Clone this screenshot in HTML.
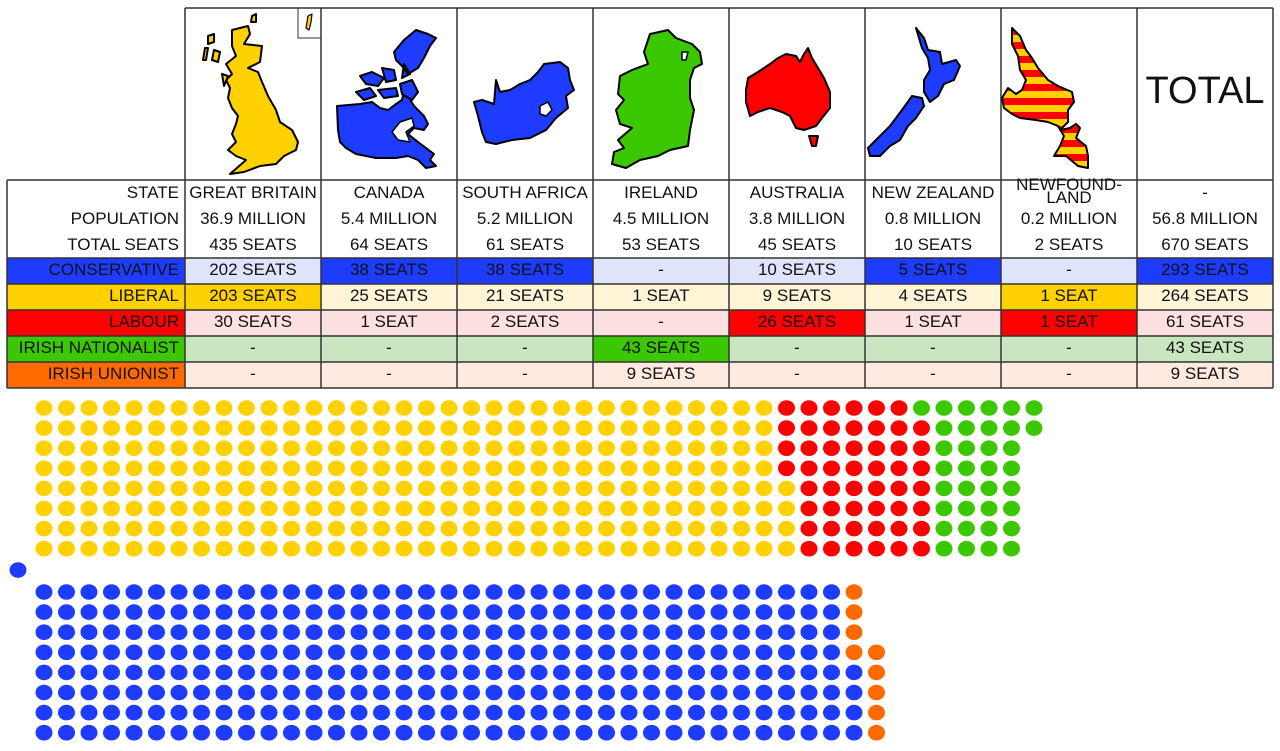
<!DOCTYPE html>
<html><head><meta charset="utf-8"><style>
body{margin:0;background:#fff;width:1280px;height:751px;overflow:hidden;position:relative;font-family:"Liberation Sans",sans-serif;}
.c{position:absolute;box-sizing:border-box;font-size:17px;color:#111;text-align:center;white-space:nowrap;}
svg{position:absolute;left:0;top:0}
</style></head><body>
<svg width="1280" height="751" xmlns="http://www.w3.org/2000/svg">
<defs>
<pattern id="st" width="10" height="14" patternUnits="userSpaceOnUse"><rect width="10" height="7" fill="#ff0000"/><rect y="7" width="10" height="7" fill="#ffd100"/></pattern>
</defs>
<g>
<rect x="7" y="258" width="178" height="26" fill="#1e3cff"/>
<rect x="7" y="284" width="178" height="26" fill="#ffd100"/>
<rect x="7" y="310" width="178" height="26" fill="#ff0000"/>
<rect x="7" y="336" width="178" height="26" fill="#3cc800"/>
<rect x="7" y="362" width="178" height="26" fill="#ff6a00"/>
<rect x="185" y="258" width="1088" height="26" fill="#dfe4fb"/>
<rect x="321" y="258" width="272" height="26" fill="#1e3cff"/>
<rect x="865" y="258" width="136" height="26" fill="#1e3cff"/>
<rect x="1137" y="258" width="136" height="26" fill="#1e3cff"/>
<rect x="185" y="284" width="1088" height="26" fill="#fff4d6"/>
<rect x="185" y="284" width="136" height="26" fill="#ffd100"/>
<rect x="1001" y="284" width="136" height="26" fill="#ffd100"/>
<rect x="185" y="310" width="1088" height="26" fill="#ffe0e0"/>
<rect x="729" y="310" width="136" height="26" fill="#ff0000"/>
<rect x="1001" y="310" width="136" height="26" fill="#ff0000"/>
<rect x="185" y="336" width="1088" height="26" fill="#cae6c0"/>
<rect x="593" y="336" width="136" height="26" fill="#3cc800"/>
<rect x="185" y="362" width="1088" height="26" fill="#ffeadf"/>
</g>
<g stroke="#333" stroke-width="1.5" fill="none">
<line x1="185" y1="8" x2="1273" y2="8"/>
<line x1="7" y1="180" x2="1273" y2="180"/>
<line x1="7" y1="258" x2="1273" y2="258"/>
<line x1="7" y1="284" x2="1273" y2="284"/>
<line x1="7" y1="310" x2="1273" y2="310"/>
<line x1="7" y1="336" x2="1273" y2="336"/>
<line x1="7" y1="362" x2="1273" y2="362"/>
<line x1="7" y1="388" x2="1273" y2="388"/>
<line x1="7" y1="180" x2="7" y2="388"/>
<line x1="185" y1="8" x2="185" y2="388"/>
<line x1="321" y1="8" x2="321" y2="388"/>
<line x1="457" y1="8" x2="457" y2="388"/>
<line x1="593" y1="8" x2="593" y2="388"/>
<line x1="729" y1="8" x2="729" y2="388"/>
<line x1="865" y1="8" x2="865" y2="388"/>
<line x1="1001" y1="8" x2="1001" y2="388"/>
<line x1="1137" y1="8" x2="1137" y2="388"/>
<line x1="1273" y1="8" x2="1273" y2="388"/>
<polyline points="298,8 298,38 321,38" stroke-width="1"/>
</g>
<g stroke="#000" stroke-width="2" stroke-linejoin="round">
<path fill="#ffd100" d="M232,30 L248,26 L250,34 L244,44 L262,46 L260,62 L248,68 L258,72 L262,82 L268,96 L276,110 L280,122 L292,130 L298,142 L296,150 L284,156 L276,164 L260,166 L244,172 L230,174 L246,160 L236,156 L228,150 L236,142 L232,134 L236,124 L238,116 L232,108 L228,98 L230,88 L226,80 L232,74 L226,64 L236,56 L232,46 Z"/>
<path fill="#ffd100" d="M208,36 L214,34 L214,42 L208,44 Z M205,48 L208,48 L206,60 L203,60 Z M214,50 L220,52 L218,62 L212,60 Z M222,74 L228,76 L224,86 Z M252,16 L256,14 L256,22 L251,22 Z"/>
<path fill="#ffd100" stroke-width="1.2" d="M308,16 L312,14 L311,22 L309,30 L306,28 L307,22 Z"/>
<path fill="#1e3cff" d="M337,106 L360,104 L372,102 L380,108 L388,110 L396,104 L402,100 L404,92 L408,96 L414,106 L420,112 L424,116 L428,124 L424,130 L414,128 L408,134 L418,142 L434,154 L430,160 L436,166 L426,168 L418,160 L408,156 L396,158 L376,158 L356,154 L346,148 L340,142 L338,130 Z"/>
<path fill="#1e3cff" d="M394,52 L404,40 L416,30 L428,34 L436,38 L430,46 L424,58 L418,68 L408,74 L402,66 L396,60 Z M360,76 L372,72 L384,78 L378,86 L366,84 Z M382,68 L394,70 L396,80 L386,82 Z M356,92 L370,88 L376,96 L364,100 Z M378,90 L396,88 L398,96 L384,98 Z M400,84 L412,80 L418,92 L412,100 L402,94 Z M404,64 L410,74 L402,78 Z"/>
<path fill="#fff" stroke-width="1.5" d="M400,122 L412,118 L414,126 L406,132 L410,142 L398,140 L392,132 Z"/>
<path fill="#1e3cff" d="M496,80 L500,92 L510,90 L520,84 L530,80 L538,72 L544,64 L560,62 L568,68 L570,80 L574,90 L566,96 L568,108 L556,118 L546,130 L530,138 L512,140 L496,144 L486,142 L482,132 L478,116 L474,102 L482,100 L494,104 Z"/>
<path fill="#fff" stroke-width="1.5" d="M540,106 L548,102 L552,110 L546,116 L540,114 Z"/>
<path fill="#3cc800" d="M650,34 L668,30 L676,38 L692,44 L700,52 L702,64 L694,68 L690,80 L690,98 L694,110 L690,130 L688,146 L670,150 L658,156 L640,160 L626,168 L612,164 L614,152 L624,148 L618,140 L632,128 L620,124 L616,110 L624,100 L618,94 L620,76 L632,70 L648,64 L644,52 Z"/>
<path fill="#fff" stroke-width="1.5" d="M682,52 L688,52 L686,60 L682,60 Z"/>
<path fill="#ff0000" d="M748,78 L758,72 L770,64 L778,58 L786,54 L796,56 L800,62 L804,54 L808,48 L812,58 L818,68 L824,78 L830,92 L830,108 L822,118 L816,126 L804,130 L796,128 L790,116 L782,112 L770,108 L758,112 L750,116 L746,102 L746,90 Z"/>
<path fill="#ff0000" d="M809,136 L818,136 L816,146 L812,146 Z"/>
<path fill="#1e3cff" d="M916,28 L924,38 L928,50 L940,52 L942,64 L956,60 L960,66 L954,80 L944,84 L938,96 L930,102 L924,92 L924,80 L930,70 L928,58 L922,48 Z"/>
<path fill="#1e3cff" d="M912,96 L922,98 L924,106 L916,118 L908,126 L900,140 L890,146 L880,156 L870,156 L868,148 L878,138 L890,126 L902,110 Z"/>
<path fill="url(#st)" d="M1012,28 L1020,36 L1026,50 L1032,58 L1038,68 L1048,80 L1058,86 L1072,92 L1074,102 L1068,110 L1068,122 L1060,130 L1070,128 L1076,124 L1080,128 L1076,138 L1086,146 L1088,156 L1088,168 L1078,166 L1066,156 L1054,156 L1060,146 L1064,136 L1058,126 L1048,122 L1036,120 L1020,118 L1012,114 L1004,108 L1002,98 L1008,88 L1016,94 L1022,90 L1026,80 L1020,70 L1018,56 L1012,44 Z"/>
</g>
<g id="dots"></g>
</svg>
<script>
(function(){
var g=document.getElementById('dots');var s='';
var Y='#ffd100',R='#ff0000',G='#3cc800',B='#1e3cff',O='#ff6a00';
function d(c,r,y0,col){var x=44+22.5*c,y=y0+20.1*r;s+='<ellipse cx="'+x.toFixed(1)+'" cy="'+y.toFixed(1)+'" rx="8.5" ry="7.8" fill="'+col+'"/>';}
for(var r=0;r<8;r++){
 var yEnd=r<4?32:33, rEnd=(r==0)?38:39, gEnd=(r<2)?44:43;
 for(var c=0;c<=gEnd;c++){d(c,r,408,c<=yEnd?Y:(c<=rEnd?R:G));}
}
for(var r=0;r<8;r++){
 var bEnd=r<4?35:36, oEnd=r<3?36:37;
 for(var c=0;c<=oEnd;c++){ d(c,r,592,c<=bEnd?B:O);}
}
s+='<ellipse cx="18" cy="570" rx="8.5" ry="7.8" fill="'+B+'"/>';
g.innerHTML=s;
})();
</script>
<div class="c" style="left:1137px;top:70px;width:136px;font-size:38px;">TOTAL</div>
<div class="c" style="left:7px;top:180px;width:172px;text-align:right;line-height:26px;">STATE<br>POPULATION<br>TOTAL SEATS</div>
<div class="c" style="left:185px;top:180px;width:136px;line-height:26px;">GREAT BRITAIN<br>36.9 MILLION<br>435 SEATS</div>
<div class="c" style="left:321px;top:180px;width:136px;line-height:26px;">CANADA<br>5.4 MILLION<br>64 SEATS</div>
<div class="c" style="left:457px;top:180px;width:136px;line-height:26px;">SOUTH AFRICA<br>5.2 MILLION<br>61 SEATS</div>
<div class="c" style="left:593px;top:180px;width:136px;line-height:26px;">IRELAND<br>4.5 MILLION<br>53 SEATS</div>
<div class="c" style="left:729px;top:180px;width:136px;line-height:26px;">AUSTRALIA<br>3.8 MILLION<br>45 SEATS</div>
<div class="c" style="left:865px;top:180px;width:136px;line-height:26px;">NEW ZEALAND<br>0.8 MILLION<br>10 SEATS</div>
<div class="c" style="left:1001px;top:178px;width:136px;line-height:13px;">NEWFOUND-<br>LAND</div>
<div class="c" style="left:1001px;top:206px;width:136px;line-height:26px;">0.2 MILLION<br>2 SEATS</div>
<div class="c" style="left:1137px;top:180px;width:136px;line-height:26px;">-<br>56.8 MILLION<br>670 SEATS</div>
<div class="c" style="left:7px;top:257px;width:172px;text-align:right;line-height:26px;">CONSERVATIVE<br>LIBERAL<br>LABOUR<br>IRISH NATIONALIST<br>IRISH UNIONIST</div>
<div class="c" style="left:185px;top:257px;width:136px;line-height:26px;">202 SEATS<br>203 SEATS<br>30 SEATS<br>-<br>-</div>
<div class="c" style="left:321px;top:257px;width:136px;line-height:26px;">38 SEATS<br>25 SEATS<br>1 SEAT<br>-<br>-</div>
<div class="c" style="left:457px;top:257px;width:136px;line-height:26px;">38 SEATS<br>21 SEATS<br>2 SEATS<br>-<br>-</div>
<div class="c" style="left:593px;top:257px;width:136px;line-height:26px;">-<br>1 SEAT<br>-<br>43 SEATS<br>9 SEATS</div>
<div class="c" style="left:729px;top:257px;width:136px;line-height:26px;">10 SEATS<br>9 SEATS<br>26 SEATS<br>-<br>-</div>
<div class="c" style="left:865px;top:257px;width:136px;line-height:26px;">5 SEATS<br>4 SEATS<br>1 SEAT<br>-<br>-</div>
<div class="c" style="left:1001px;top:257px;width:136px;line-height:26px;">-<br>1 SEAT<br>1 SEAT<br>-<br>-</div>
<div class="c" style="left:1137px;top:257px;width:136px;line-height:26px;">293 SEATS<br>264 SEATS<br>61 SEATS<br>43 SEATS<br>9 SEATS</div>
</body></html>
